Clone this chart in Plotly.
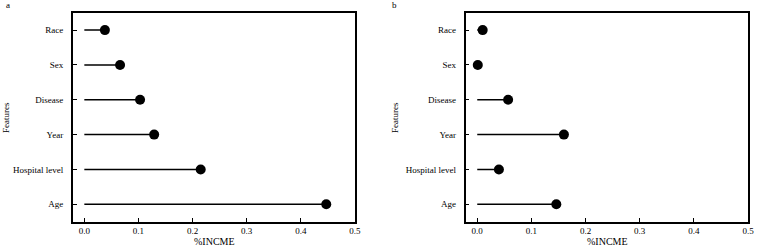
import plotly.graph_objects as go

features = ["Age", "Hospital level", "Year", "Disease", "Sex", "Race"]
values_a = [0.447, 0.215, 0.129, 0.103, 0.066, 0.038]
values_b = [0.146, 0.040, 0.160, 0.057, 0.001, 0.010]
x_ticks = [0.0, 0.1, 0.2, 0.3, 0.4, 0.5]
x_ticktext = ["0.0", "0.1", "0.2", "0.3", "0.4", "0.5"]

FONT = "Liberation Serif, Times New Roman, serif"

fig = go.Figure()

def add_panel(values, xa, ya):
    lx, ly = [], []
    for f, v in zip(features, values):
        lx += [0, v, None]
        ly += [f, f, None]
    fig.add_trace(go.Scatter(x=lx, y=ly, mode="lines",
                             line=dict(color="black", width=1.5),
                             xaxis=xa, yaxis=ya, showlegend=False, hoverinfo="skip"))
    fig.add_trace(go.Scatter(x=values, y=features, mode="markers",
                             marker=dict(color="black", size=10),
                             xaxis=xa, yaxis=ya, showlegend=False))

add_panel(values_a, "x", "y")
add_panel(values_b, "x2", "y2")

xcommon = dict(range=[-0.0214, 0.5], tickvals=x_ticks, ticktext=x_ticktext,
               ticks="inside", ticklen=4, tickwidth=1, tickcolor="black",
               showline=True, linecolor="black", linewidth=1.5, mirror=True,
               showgrid=False, zeroline=False, ticklabelstandoff=0,
               tickfont=dict(family=FONT, size=9, color="black"))
ycommon = dict(type="category", categoryorder="array", categoryarray=features,
               range=[-0.5, 5.5], ticks="inside", ticklen=4, tickwidth=1,
               tickcolor="black", showline=True, linecolor="black", linewidth=1.5,
               mirror=True, showgrid=False, zeroline=False, ticklabelstandoff=6,
               tickfont=dict(family=FONT, size=9, color="black"))

fig.update_layout(
    width=767, height=249,
    margin=dict(l=0, r=0, t=0, b=0),
    paper_bgcolor="white", plot_bgcolor="white",
    xaxis=dict(domain=[0.0956, 0.4664], anchor="y", **xcommon),
    yaxis=dict(domain=[0.1096, 0.949], anchor="x", **ycommon),
    xaxis2=dict(domain=[0.6119, 0.983], anchor="y2", **xcommon),
    yaxis2=dict(domain=[0.1096, 0.949], anchor="x2", **ycommon),
)

W, H = 767, 249
# (text, px, py, size, angle)
labels = [
    ("a", 8, 5, 9, 0),
    ("b", 398, 5, 9, 0),
    ("Features", 6, 117, 9, -90),
    ("Features", 398, 117, 9, -90),
    ("%INCME", 216, 241.5, 10, 0),
    ("%INCME", 612, 241.5, 10, 0),
]
for text, px, py, sz, ang in labels:
    fig.add_annotation(text=text, x=px / W, y=1 - py / H, xref="paper", yref="paper",
                       xanchor="center", yanchor="middle", showarrow=False,
                       textangle=ang, font=dict(family=FONT, size=sz, color="black"))

fig.write_html("out.html")
